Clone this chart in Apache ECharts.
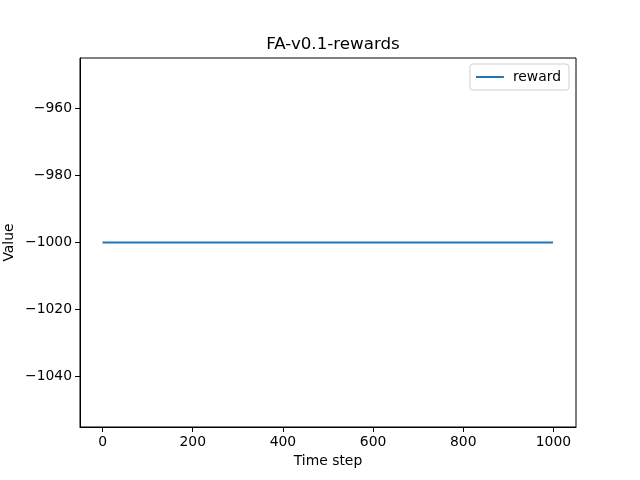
<!DOCTYPE html>
<html lang="en">
<head>
    <meta charset="UTF-8">
    <title>FA-v0.1-rewards</title>
    <script src="https://cdn.jsdelivr.net/npm/echarts@6.0.0/dist/echarts.min.js"></script>
</head>
<body style="margin:0">
<div id="main" style="width:640px;height:480px;"></div>
<script>
    // data: reward is flat at -1000 over the whole run
    const timeSteps = [0, 999];
    const rewards = [-1000, -1000];
    const xTicks = [0, 200, 400, 600, 800, 1000];
    const yTicks = [-1040, -1020, -1000, -980, -960];

    const chart = echarts.init(document.getElementById('main'));
    const font = 'DejaVu Sans';
    const minus = v => String(v).replace('-', '\u2212');

    chart.setOption({
        backgroundColor: '#fff',
        animation: false,
        textStyle: {fontFamily: font},
        title: {
            text: 'FA-v0.1-rewards',
            left: 328,
            textAlign: 'center',
            top: 31,
            textStyle: {fontFamily: font, fontSize: 16.7, fontWeight: 'normal', color: '#000'}
        },
        legend: {
            right: 71,
            top: 64,
            padding: [6, 8, 6, 6],
            borderColor: '#d0d0d0',
            borderWidth: 1,
            borderRadius: 3,
            icon: 'rect',
            itemWidth: 28,
            itemHeight: 2,
            itemGap: 10,
            textStyle: {fontFamily: font, fontSize: 13.9, color: '#000', padding: [0, 0, 0, 4]},
            data: ['reward']
        },
        grid: {
            left: 80, right: 64, top: 58, bottom: 53,
            outerBoundsMode: 'none',
            containLabel: false,
            show: true, borderColor: '#000', borderWidth: 1
        },
        xAxis: {
            type: 'value',
            min: -50,
            max: 1050,
            name: 'Time step',
            nameLocation: 'middle',
            nameGap: 27,
            nameMoveOverlap: false,
            nameTextStyle: {fontFamily: font, fontSize: 13.9, color: '#000'},
            axisLine: {show: true, onZero: false, lineStyle: {color: '#000'}},
            axisTick: {show: true, inside: false, length: 5, customValues: xTicks, lineStyle: {color: '#000'}},
            axisLabel: {customValues: xTicks, margin: 8, fontSize: 13.9, color: '#000', fontFamily: font, formatter: minus},
            splitLine: {show: false}
        },
        yAxis: {
            type: 'value',
            min: -1055,
            max: -945,
            name: 'Value',
            nameLocation: 'middle',
            nameGap: 64,
            nameMoveOverlap: false,
            nameTextStyle: {fontFamily: font, fontSize: 13.9, color: '#000'},
            axisLine: {show: true, onZero: false, lineStyle: {color: '#000'}},
            axisTick: {show: true, inside: false, length: 5, customValues: yTicks, lineStyle: {color: '#000'}},
            axisLabel: {customValues: yTicks, margin: 8, fontSize: 13.9, color: '#000', fontFamily: font, formatter: minus},
            splitLine: {show: false}
        },
        series: [{
            name: 'reward',
            type: 'line',
            data: timeSteps.map((t, i) => [t, rewards[i]]),
            showSymbol: false,
            symbol: 'none',
            lineStyle: {color: '#1f77b4', width: 2},
            itemStyle: {color: '#1f77b4'}
        }]
    });
</script>
</body>
</html>
